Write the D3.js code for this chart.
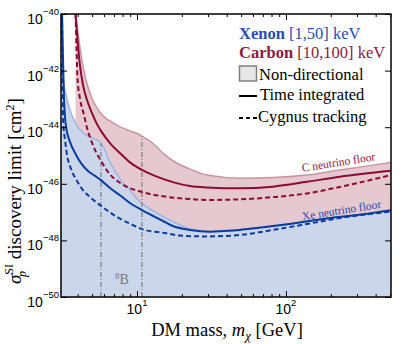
<!DOCTYPE html>
<html>
<head>
<meta charset="utf-8">
<script src="https://cdn.jsdelivr.net/npm/d3@7"></script>
<style>
body { margin: 0; background: #fff; }
svg { display: block; }
</style>
</head>
<body>
<svg id="chart" width="407" height="344" font-family="'Liberation Serif', 'DejaVu Serif', serif"></svg>
<script>
// mass in GeV, cross section as log10(sigma / cm^2)
var xeNonDir = [[3.09,-41.84],[3.19,-42.33],[3.34,-42.86],[3.55,-43.39],[3.84,-43.82],[4.21,-44.13],[4.69,-44.31],[5.23,-44.42],[5.65,-44.52],[6.01,-44.73],[6.39,-45.09],[6.90,-45.44],[7.81,-45.87],[8.97,-46.22],[10.5,-46.64],[13.2,-47.00],[16.6,-47.28],[21.0,-47.53],[26.5,-47.65],[30.9,-47.69],[37.8,-47.67],[49.1,-47.63],[63.9,-47.56],[106,-47.42],[177,-47.24],[300,-47.10],[507,-46.93]];
var xeTime = [[3.14,-40.00],[3.19,-41.63],[3.24,-43.04],[3.34,-43.99],[3.55,-44.52],[3.84,-44.91],[4.21,-45.27],[4.69,-45.55],[5.23,-45.72],[5.73,-45.87],[6.59,-46.15],[7.81,-46.43],[8.97,-46.68],[10.8,-46.93],[13.2,-47.17],[15.4,-47.35],[17.4,-47.49],[22.7,-47.63],[30.9,-47.69],[37.8,-47.67],[49.1,-47.63],[63.9,-47.56],[106,-47.42],[177,-47.24],[300,-47.10],[507,-46.93]];
var xeCygnus = [[3.14,-40.00],[3.16,-41.98],[3.20,-43.85],[3.29,-44.45],[3.39,-44.98],[3.55,-45.37],[3.96,-45.90],[4.34,-46.22],[4.84,-46.47],[5.73,-46.78],[7.34,-47.17],[9.40,-47.46],[10.8,-47.60],[15.4,-47.74],[19.4,-47.83],[29.5,-47.86],[49.1,-47.81],[81.8,-47.63],[138,-47.42],[230,-47.21],[507,-46.98]];
var cNonDir = [[3.87,-40.00],[3.96,-40.39],[4.08,-40.92],[4.27,-41.63],[4.55,-42.33],[4.91,-42.90],[5.39,-43.32],[5.91,-43.60],[6.59,-43.78],[7.69,-43.99],[8.97,-44.13],[10.2,-44.24],[11.1,-44.35],[12.2,-44.49],[13.6,-44.70],[15.4,-44.98],[18.0,-45.23],[22.7,-45.48],[29.5,-45.69],[49.1,-45.80],[81.8,-45.78],[138,-45.69],[230,-45.51],[384,-45.34],[507,-45.25]];
var cTime = [[3.87,-40.00],[3.99,-40.92],[4.14,-41.80],[4.34,-42.51],[4.62,-43.04],[4.99,-43.50],[5.39,-43.89],[5.73,-44.13],[6.59,-44.56],[7.93,-44.98],[9.12,-45.27],[10.8,-45.51],[13.2,-45.72],[17.4,-45.94],[22.7,-46.08],[29.5,-46.13],[49.1,-46.16],[81.8,-46.10],[138,-45.93],[230,-45.75],[507,-45.54]];
var cCygnus = [[3.87,-40.00],[3.93,-41.27],[3.99,-42.30],[4.14,-42.97],[4.41,-43.57],[4.62,-44.03],[4.91,-44.45],[5.31,-44.88],[5.73,-45.19],[6.39,-45.58],[7.93,-46.01],[10.8,-46.29],[15.4,-46.45],[22.7,-46.54],[29.5,-46.57],[49.1,-46.55],[81.8,-46.47],[138,-46.34],[230,-46.11],[507,-45.69]];

// 8B features: first one ends on the Xe floor, second on the C floor
var b8Mass = [5.73, 10.8];

var yTickExp = [-50, -48, -46, -44, -42, -40];
var xMajor = [10, 100];
var xMajorExp = ["1", "2"];
var xMinor = [4, 5, 6, 7, 8, 9, 20, 30, 40, 50, 60, 70, 80, 90, 200, 300, 400, 500];

var L = 61, R = 391, T = 14, B = 297;
var serif = "'Liberation Serif', 'DejaVu Serif', serif";
var sans = "'Liberation Sans', Arial, sans-serif";
var svg = d3.select("#chart");

var x = d3.scaleLog().domain([3.09, 507]).range([L, R]);
var y = d3.scaleLog().domain([1e-50, 1e-40]).range([B, T]);

function px(d) { return x(d[0]); }
function py(d) { return y(Math.pow(10, d[1])); }

// linear in log-log between the read points
function interp(curve, m) {
    for (var i = 0; i < curve.length - 1; i++) {
        if (m >= curve[i][0] && m <= curve[i+1][0]) {
            var t = (Math.log(m) - Math.log(curve[i][0])) / (Math.log(curve[i+1][0]) - Math.log(curve[i][0]));
            return curve[i][1] + t * (curve[i+1][1] - curve[i][1]);
        }
    }
    return curve[curve.length-1][1];
}

svg.append("clipPath").attr("id", "plotclip")
    .append("rect").attr("x", L).attr("y", T).attr("width", R - L).attr("height", B - T);

var plot = svg.append("g").attr("clip-path", "url(#plotclip)");

var line = d3.line().x(px).y(py).curve(d3.curveMonotoneX);
var area = d3.area().x(px).y0(B).y1(py).curve(d3.curveMonotoneX);

plot.append("path").attr("d", area(cNonDir)).attr("fill", "#e6c8d0");
plot.append("path").attr("d", area(xeNonDir)).attr("fill", "#cbd6ea");

plot.append("path").attr("d", line(cNonDir))
    .attr("fill", "none").attr("stroke", "#c995a4").attr("stroke-width", 1.5);
plot.append("path").attr("d", line(xeNonDir))
    .attr("fill", "none").attr("stroke", "#9db5e2").attr("stroke-width", 1.5);

// dash-dot 8B lines
var b8Curves = [xeNonDir, cNonDir];
for (var i = 0; i < b8Mass.length; i++) {
    plot.append("line")
        .attr("x1", x(b8Mass[i])).attr("x2", x(b8Mass[i]))
        .attr("y1", B).attr("y2", y(Math.pow(10, interp(b8Curves[i], b8Mass[i]))))
        .attr("stroke", "#6a6a6a").attr("stroke-width", 1)
        .attr("stroke-dasharray", "5,2,1,2");
}

var red = "#8c0b34", blue = "#0a3c9f";
plot.append("path").attr("d", line(cTime))
    .attr("fill", "none").attr("stroke", red).attr("stroke-width", 2);
plot.append("path").attr("d", line(cCygnus))
    .attr("fill", "none").attr("stroke", red).attr("stroke-width", 2)
    .attr("stroke-dasharray", "5,3");
plot.append("path").attr("d", line(xeTime))
    .attr("fill", "none").attr("stroke", blue).attr("stroke-width", 2);
plot.append("path").attr("d", line(xeCygnus))
    .attr("fill", "none").attr("stroke", blue).attr("stroke-width", 2)
    .attr("stroke-dasharray", "5,3");

// in-plot labels
svg.append("text").attr("x", 115).attr("y", 284)
    .attr("fill", "#777").style("font-family", serif).style("font-size", "14px")
    .html('<tspan dy="-5" style="font-size:9px">8</tspan><tspan dy="5">B</tspan>');

svg.append("text").attr("transform", "translate(339,166) rotate(-9)")
    .attr("text-anchor", "middle").attr("fill", "#8c1a3c")
    .style("font-family", serif).style("font-size", "11.5px")
    .text("C neutrino floor");
svg.append("text").attr("transform", "translate(342,214) rotate(-9)")
    .attr("text-anchor", "middle").attr("fill", "#2a4ca8")
    .style("font-family", serif).style("font-size", "11.5px")
    .text("Xe neutrino floor");

// axes: ticks point inward
function inward(axis, len, g) {
    g.call(axis.tickSizeInner(-len).tickSizeOuter(0).tickFormat(""));
    g.select(".domain").remove();
    g.selectAll(".tick line").attr("stroke", "#000");
}
inward(d3.axisBottom(x).tickValues(xMajor), 6, svg.append("g").attr("transform", "translate(0," + B + ")"));
inward(d3.axisBottom(x).tickValues(xMinor), 3, svg.append("g").attr("transform", "translate(0," + B + ")"));
inward(d3.axisTop(x).tickValues(xMajor), 6, svg.append("g").attr("transform", "translate(0," + T + ")"));
inward(d3.axisTop(x).tickValues(xMinor), 3, svg.append("g").attr("transform", "translate(0," + T + ")"));
var yVals = yTickExp.map(function (e) { return Math.pow(10, e); });
inward(d3.axisLeft(y).tickValues(yVals), 6, svg.append("g").attr("transform", "translate(" + L + ",0)"));
inward(d3.axisRight(y).tickValues(yVals), 6, svg.append("g").attr("transform", "translate(" + R + ",0)"));

svg.append("rect").attr("x", L).attr("y", T).attr("width", R - L).attr("height", B - T)
    .attr("fill", "none").attr("stroke", "#000").attr("stroke-width", 1.5);

// tick labels
yTickExp.forEach(function (e) {
    svg.append("text").attr("x", 59).attr("y", y(Math.pow(10, e)) + 10)
        .attr("text-anchor", "end")
        .style("font-family", sans).style("font-size", "14px")
        .html('10<tspan dy="-9" style="font-size:9.5px">\u2212' + Math.abs(e) + '</tspan>');
});
xMajor.forEach(function (m, i) {
    svg.append("text").attr("x", x(m)).attr("y", 314)
        .attr("text-anchor", "middle")
        .style("font-family", sans).style("font-size", "14px")
        .html('10<tspan dy="-8" style="font-size:9.5px">' + xMajorExp[i] + '</tspan>');
});

// axis titles
svg.append("text").attr("x", 227).attr("y", 336).attr("text-anchor", "middle")
    .style("font-family", serif).style("font-size", "18.5px")
    .html('DM mass, <tspan font-style="italic">m</tspan><tspan dy="4" font-style="italic" style="font-size:13px">\u03c7</tspan><tspan dy="-4"> [GeV]</tspan>');

svg.append("text").attr("transform", "rotate(-90)").attr("x", -284).attr("y", 21)
    .style("font-family", serif).style("font-size", "19px")
    .html('<tspan font-style="italic">\u03c3</tspan><tspan dy="-8" style="font-size:12px">SI</tspan><tspan dx="-13" dy="13" font-style="italic" style="font-size:12px">p</tspan><tspan dx="7" dy="-5"> discovery limit [cm</tspan><tspan dy="-7" style="font-size:12px">2</tspan><tspan dy="7">]</tspan>');

// legend
var lg = svg.append("g").style("font-family", serif).style("font-size", "16.5px");
lg.append("text").attr("x", 239).attr("y", 39).attr("fill", "#2550b0")
    .html('<tspan font-weight="bold">Xenon</tspan> [1,50] keV');
lg.append("text").attr("x", 239).attr("y", 58).attr("fill", "#8e1a3c")
    .html('<tspan font-weight="bold">Carbon</tspan> [10,100] keV');
lg.append("rect").attr("x", 239.5).attr("y", 66).attr("width", 17).attr("height", 15)
    .attr("fill", "#e6e6e6").attr("stroke", "#808080").attr("stroke-width", 1.5);
lg.append("text").attr("x", 259).attr("y", 80).text("Non-directional");
lg.append("line").attr("x1", 239).attr("x2", 257).attr("y1", 96).attr("y2", 96)
    .attr("stroke", "#000").attr("stroke-width", 2);
lg.append("text").attr("x", 260).attr("y", 100).text("Time integrated");
lg.append("line").attr("x1", 239).attr("x2", 257).attr("y1", 118).attr("y2", 118)
    .attr("stroke", "#000").attr("stroke-width", 2).attr("stroke-dasharray", "4,3");
lg.append("text").attr("x", 258).attr("y", 122).text("Cygnus tracking");
</script>
</body>
</html>
